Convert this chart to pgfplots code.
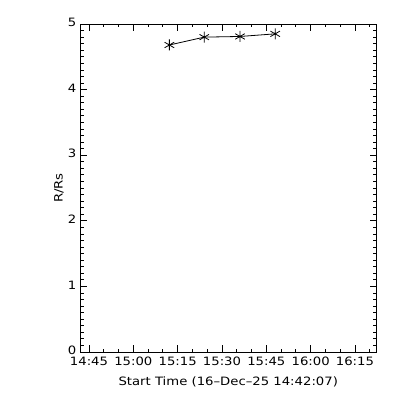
\documentclass[border=0pt]{standalone}
\usepackage{fontspec}
\setmainfont{DejaVu Sans}[FakeStretch=1.15]
\usepackage{pgfplots}
\pgfplotsset{compat=1.18}
\begin{document}
\begin{tikzpicture}[x=1pt,y=1pt]
\path[use as bounding box] (-80.5,-48) rectangle (319.5,352);
\begin{axis}[at={(0,0)}, anchor=south west, scale only axis,
 width=295.5pt, height=328pt,
 xmin=-2.8833, xmax=97.1167, ymin=0, ymax=5,
 xtick={0,15,30,45,60,75,90},
 xticklabels={14:45,15:00,15:15,15:30,15:45,16:00,16:15},
 minor xtick={5,10,20,25,35,40,50,55,65,70,80,85,95},
 ytick={0,1,2,3,4,5}, minor y tick num=9,
 tick align=inside, major tick length=6.5pt, minor tick length=3.3pt,
 axis line style={line width=0.8pt},
 every tick/.style={black, line width=0.8pt},
 /pgf/number format/assume math mode=true,
 ticklabel style={font=\fontsize{11.5}{13}\selectfont, inner sep=1pt},
 xticklabel style={yshift=-4pt},
 yticklabel style={yshift=1.5pt, xshift=-3pt},
 xlabel={Start Time (16--Dec--25 14:42:07)}, ylabel={R/Rs},
 label style={font=\fontsize{11.5}{13}\selectfont},
 xlabel style={at={(axis description cs:0.5,-0.0914)}, anchor=center},
 ylabel style={at={(axis description cs:-0.073,0.5)}, anchor=center, rotate=0},
]
\addplot[black, line width=0.8pt, mark=asterisk, mark size=5.5pt, mark options={line width=0.8pt}]
 coordinates {(27.2,4.68) (39.0,4.80) (51.1,4.81) (63.0,4.85)};
\end{axis}
\end{tikzpicture}
\end{document}
